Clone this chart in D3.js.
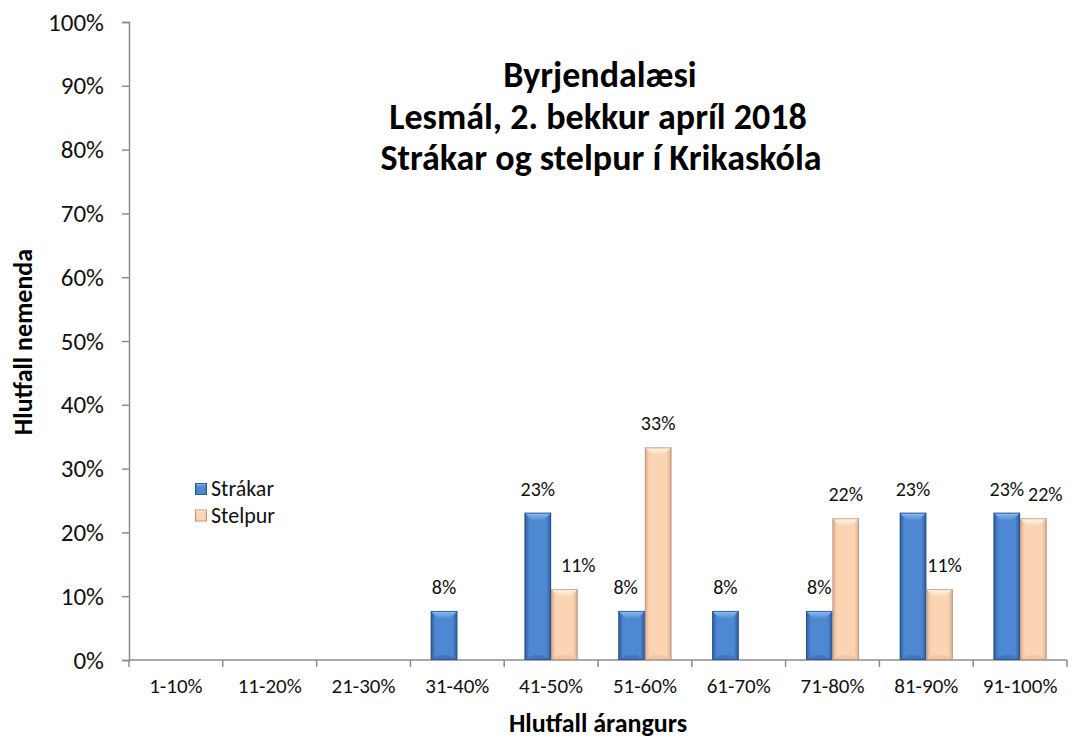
<!DOCTYPE html>
<html><head><meta charset="utf-8">
<script src="https://cdn.jsdelivr.net/npm/d3@7"></script>
<style>
html,body{margin:0;padding:0;background:#fff;}
svg{display:block;font-family:Carlito,Lato,"Open Sans",sans-serif;}
</style></head>
<body>
<svg id="chart" width="1072" height="740"></svg>
<script>
// ---- data ----
const categories = ["1-10%","11-20%","21-30%","31-40%","41-50%","51-60%","61-70%","71-80%","81-90%","91-100%"];
const seriesNames = ["Strákar","Stelpur"];
const strakar = [0,0,0,0.0769,0.2308,0.0769,0.0769,0.0769,0.2308,0.2308];
const stelpur = [0,0,0,0,0.1111,0.3333,0,0.2222,0.1111,0.2222];
const yTicks = [0,0.1,0.2,0.3,0.4,0.5,0.6,0.7,0.8,0.9,1.0];
const titleLines = ["Byrjendalæsi","Lesmál, 2. bekkur apríl 2018","Strákar og stelpur í Krikaskóla"];
const xTitle = "Hlutfall árangurs";
const yTitle = "Hlutfall nemenda";

// layout-only constants
const labelNudge = {"Stelpur|41-50%":14,"Strákar|51-60%":-6,"Stelpur|81-90%":5,"Stelpur|91-100%":12};
const titleCenters = [600,598,601];

const svg = d3.select("#chart");
const M = {left:129, right:1067, top:22, bottom:660};

const x = d3.scaleBand().domain(categories).range([M.left, M.right]).padding(0);
const x1 = d3.scaleBand().domain(seriesNames).range([0, x.bandwidth()]).paddingInner(0).paddingOuter(0.768);
const y = d3.scaleLinear().domain([0,1]).range([M.bottom, M.top]);

const palette = {
  "Strákar": {dark:"#2c5a97", main:"#4f88d2", light:"#8fc0f4", bottom:"#3a6fb5", stroke:"#2a528a"},
  "Stelpur": {dark:"#d9b08e", main:"#fbd4b3", light:"#fff8ec", bottom:"#e9bf9c", stroke:"#b8917a"}
};

const defs = svg.append("defs");
seriesNames.forEach((s,i)=>{
  const p = palette[s];
  const g = defs.append("linearGradient").attr("id","body"+i).attr("x1","0").attr("x2","1").attr("y1","0").attr("y2","0");
  g.append("stop").attr("offset","0").attr("stop-color",p.dark);
  g.append("stop").attr("offset","0.18").attr("stop-color",p.main);
  g.append("stop").attr("offset","0.82").attr("stop-color",p.main);
  g.append("stop").attr("offset","1").attr("stop-color",p.dark);
  const t = defs.append("linearGradient").attr("id","top"+i).attr("x1","0").attr("x2","0").attr("y1","0").attr("y2","1");
  t.append("stop").attr("offset","0").attr("stop-color",p.light);
  t.append("stop").attr("offset","1").attr("stop-color",p.main);
});

// ---- axes ----
const axisColor = "#8c8c8c";
const yAxis = svg.append("g").attr("transform",`translate(${M.left},0)`)
  .call(d3.axisLeft(y).tickValues(yTicks).tickFormat(d3.format(".0%")).tickSize(7).tickPadding(18));
yAxis.select(".domain").attr("stroke",axisColor).attr("stroke-width",1.5);
yAxis.selectAll(".tick line").attr("stroke",axisColor).attr("stroke-width",1.5);
yAxis.selectAll(".tick text").attr("font-size",25).attr("fill","#111").attr("font-family","Carlito,Lato,sans-serif");

const xAxisG = svg.append("g").attr("transform",`translate(0,${M.bottom})`);
xAxisG.append("line").attr("x1",M.left).attr("x2",M.right).attr("y1",0).attr("y2",0).attr("stroke",axisColor).attr("stroke-width",1.5);
const boundaries = categories.map(c=>x(c)).concat([M.right]);
xAxisG.selectAll("line.tk").data(boundaries).join("line").attr("class","tk")
  .attr("x1",d=>d).attr("x2",d=>d).attr("y1",0).attr("y2",7).attr("stroke",axisColor).attr("stroke-width",1.5);
xAxisG.selectAll("text").data(categories).join("text")
  .attr("x",d=>x(d)+x.bandwidth()/2).attr("y",33).attr("text-anchor","middle")
  .attr("font-size",21).attr("fill","#111").text(d=>d);

// ---- bars ----
const rows = [];
categories.forEach((c,ci)=>{
  rows.push({cat:c, s:"Strákar", si:0, v:strakar[ci]});
  rows.push({cat:c, s:"Stelpur", si:1, v:stelpur[ci]});
});
const barRows = rows.filter(r=>r.v>0);
const bars = svg.append("g").selectAll("g.bar").data(barRows).join("g").attr("class","bar");
bars.each(function(d){
  const g = d3.select(this);
  const bx = x(d.cat)+x1(d.s), bw = x1.bandwidth();
  const by = y(d.v), bh = y(0)-y(d.v);
  const p = palette[d.s];
  const b = Math.min(8, bh/2, bw/3);
  g.append("rect").attr("x",bx).attr("y",by).attr("width",bw).attr("height",bh).attr("fill",`url(#body${d.si})`);
  g.append("polygon").attr("points",[[bx,by],[bx+bw,by],[bx+bw-b,by+b],[bx+b,by+b]].map(q=>q.join(",")).join(" "))
    .attr("fill",`url(#top${d.si})`);
  g.append("polygon").attr("points",[[bx,by+bh],[bx+bw,by+bh],[bx+bw-b,by+bh-b*0.6],[bx+b,by+bh-b*0.6]].map(q=>q.join(",")).join(" "))
    .attr("fill",p.bottom).attr("opacity",0.7);
  g.append("rect").attr("x",bx+0.5).attr("y",by+0.5).attr("width",bw-1).attr("height",bh-1)
    .attr("fill","none").attr("stroke",p.stroke).attr("stroke-width",1).attr("opacity",0.8);
});

// ---- labels ----
svg.append("g").selectAll("text").data(barRows).join("text")
  .attr("x",d=>x(d.cat)+x1(d.s)+x1.bandwidth()/2+(labelNudge[d.s+"|"+d.cat]||0))
  .attr("y",d=>y(d.v)-17).attr("text-anchor","middle").attr("font-size",20).attr("fill","#111")
  .text(d=>d3.format(".0%")(d.v));

// ---- title ----
svg.append("g").selectAll("text").data(titleLines).join("text")
  .attr("x",(d,i)=>titleCenters[i]).attr("y",(d,i)=>87+i*41.5).attr("text-anchor","middle")
  .attr("font-size",36).attr("font-weight","bold").attr("fill","#000").text(d=>d);

// ---- axis titles ----
svg.append("text").attr("x",598).attr("y",732).attr("text-anchor","middle")
  .attr("font-size",26).attr("font-weight","bold").attr("fill","#000").text(xTitle);
svg.append("text").attr("transform","translate(32,342) rotate(-90)").attr("text-anchor","middle")
  .attr("font-size",26).attr("font-weight","bold").attr("fill","#000").text(yTitle);

// ---- legend ----
const leg = svg.append("g").selectAll("g").data(seriesNames).join("g")
  .attr("transform",(d,i)=>`translate(195,${483+i*26.5})`);
leg.each(function(d,i){
  const g = d3.select(this); const p = palette[d];
  g.append("rect").attr("width",12).attr("height",12).attr("fill",`url(#body${i})`);
  g.append("polygon").attr("points","0,0 12,0 9,4 3,4").attr("fill",`url(#top${i})`);
  g.append("rect").attr("x",0.5).attr("y",0.5).attr("width",11).attr("height",11).attr("fill","none").attr("stroke",p.stroke).attr("stroke-width",0.8);
});
leg.append("text").attr("x",16).attr("y",13).attr("font-size",22).attr("fill","#111").text(d=>d);
</script>
</body></html>
